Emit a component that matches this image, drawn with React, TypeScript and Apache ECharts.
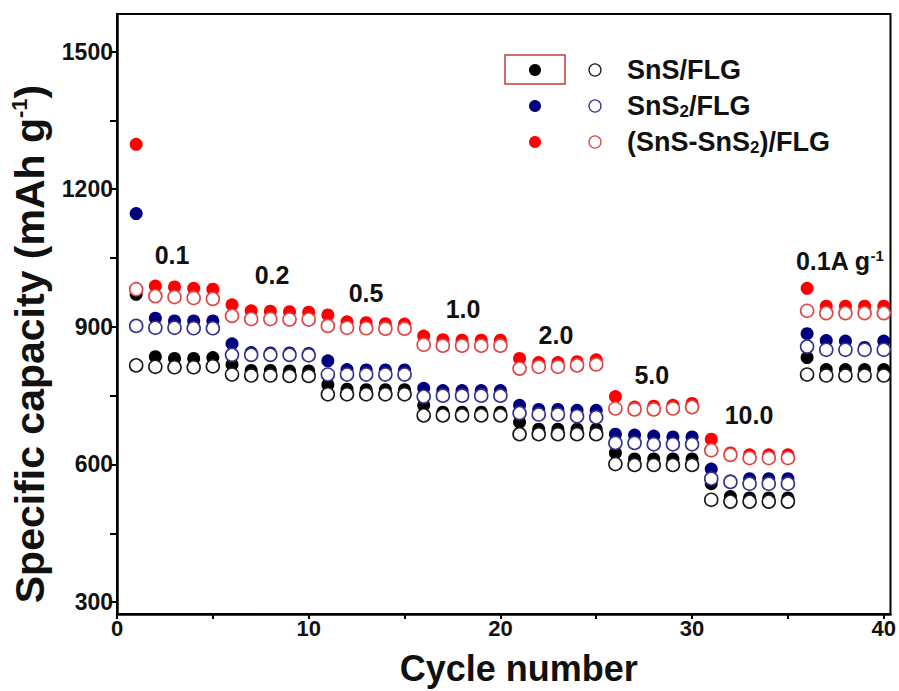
import React, { useEffect, useRef } from "react";
import * as echarts from "echarts";

const cycles = [1, 2, 3, 4, 5, 6, 7, 8, 9, 10, 11, 12, 13, 14, 15, 16, 17, 18, 19, 20, 21, 22, 23, 24, 25, 26, 27, 28, 29, 30, 31, 32, 33, 34, 35, 36, 37, 38, 39, 40];

const snsFilled = [971, 835, 831, 831, 833, 818, 805, 805, 804, 804, 774, 764, 763, 763, 763, 729, 714, 714, 714, 714, 692, 677, 677, 677, 677, 625, 612, 612, 612, 612, 558, 530, 527, 527, 527, 833, 807, 807, 807, 807];
const snsOpen = [816, 813, 812, 812, 814, 796, 794, 794, 793, 793, 753, 753, 753, 753, 753, 707, 707, 707, 707, 707, 666, 666, 666, 666, 666, 601, 599, 599, 599, 599, 523, 519, 519, 519, 519, 796, 794, 794, 794, 794];
const sns2Filled = [1147, 919, 913, 913, 913, 863, 844, 843, 843, 842, 826, 807, 806, 806, 806, 766, 761, 761, 761, 761, 729, 720, 720, 718, 718, 666, 664, 662, 660, 660, 590, 564, 569, 569, 569, 885, 870, 869, 855, 869];
const sns2Open = [902, 898, 898, 897, 897, 839, 839, 839, 839, 838, 796, 796, 796, 796, 796, 748, 750, 750, 750, 750, 712, 709, 709, 705, 703, 647, 647, 644, 644, 644, 569, 562, 558, 558, 558, 857, 850, 850, 850, 850];
const hybFilled = [1298, 989, 987, 984, 982, 948, 935, 934, 933, 932, 926, 911, 909, 907, 906, 880, 872, 871, 871, 871, 831, 822, 822, 824, 828, 748, 725, 727, 729, 733, 655, 625, 621, 621, 621, 984, 945, 945, 945, 945];
const hybOpen = [982, 967, 965, 963, 961, 924, 917, 917, 916, 916, 902, 898, 897, 896, 896, 861, 859, 859, 859, 859, 809, 813, 813, 816, 818, 722, 720, 720, 722, 725, 631, 621, 614, 614, 614, 935, 930, 930, 930, 930];

const rateTexts = ["0.1", "0.2", "0.5", "1.0", "2.0", "5.0", "10.0", "0.1A g{sup|-1}"];
const rateX = [2.87, 8.09, 12.99, 18.05, 22.9, 27.9, 32.97, 37.7];
const rateY = [1056, 1013, 974, 939, 883, 796, 707, 1043];

const xTickValues = [0, 5, 10, 15, 20, 25, 30, 35, 40];
const xLabelValues = [0, 10, 20, 30, 40];
const yTickValues = [300, 450, 600, 750, 900, 1050, 1200, 1350, 1500];
const yLabelValues = [300, 600, 900, 1200, 1500];

const legendNames = ["SnS/FLG", "SnS{sub|2}/FLG", "(SnS-SnS{sub|2})/FLG"];

const FONT = 'Arial, "Liberation Sans", Helvetica, sans-serif';
const NARROW = '"Liberation Sans Narrow", "Arial Narrow", Arial, "Liberation Sans", sans-serif';

const filledColors = ["#000000", "#00007f", "#ff0000"];
const openColors = ["#1a1a1a", "#34348f", "#e04545"];

export default function App() {
  const ref = useRef<HTMLDivElement>(null);

  useEffect(() => {
    if (!ref.current) return;
    const chart = echarts.init(ref.current, null, { renderer: "svg" });

    const pair = (ys: number[]) => cycles.map((c, i) => [c, ys[i]]);
    const filledSets = [snsFilled, sns2Filled, hybFilled];
    const openSets = [snsOpen, sns2Open, hybOpen];

    const series: any[] = [];
    filledSets.forEach((ys, k) => {
      series.push({
        type: "scatter",
        name: "filled" + k,
        data: pair(ys),
        symbol: "circle",
        symbolSize: 13,
        itemStyle: { color: filledColors[k], opacity: 1 },
        z: 2,
      });
    });
    openSets.forEach((ys, k) => {
      series.push({
        type: "scatter",
        name: "open" + k,
        data: pair(ys),
        symbol: "circle",
        symbolSize: 13,
        itemStyle: { color: "#ffffff", borderColor: openColors[k], borderWidth: 1.6, opacity: 1 },
        z: 3,
      });
    });
    series.push({
      type: "scatter",
      name: "rates",
      data: rateX.map((x, i) => ({ value: [x, rateY[i]], text: rateTexts[i] })),
      symbolSize: 0,
      silent: true,
      itemStyle: { opacity: 1 },
      z: 4,
      label: {
        show: true,
        position: "inside",
        formatter: (p: any) => p.data.text,
        color: "#111",
        opacity: 1,
        fontSize: 25,
        fontWeight: "bold",
        fontFamily: FONT,
        rich: {
          sup: {
            fontSize: 15,
            fontWeight: "bold",
            fontFamily: FONT,
            color: "#111",
            verticalAlign: "top",
            padding: [0, 0, 12, 0],
          },
        },
      },
    });

    const legendGraphics: any[] = [
      {
        type: "rect",
        shape: { x: 505, y: 55, width: 60, height: 29 },
        style: { fill: "none", stroke: "#c83c3c", lineWidth: 1.5 },
      },
    ];
    const rowY = [70, 106, 142];
    rowY.forEach((y, k) => {
      legendGraphics.push({
        type: "circle",
        shape: { cx: 535, cy: y, r: 6 },
        style: { fill: filledColors[k] },
      });
      legendGraphics.push({
        type: "circle",
        shape: { cx: 595, cy: y, r: 6 },
        style: { fill: "#fff", stroke: openColors[k], lineWidth: 1.3 },
      });
      legendGraphics.push({
        type: "text",
        x: 627,
        y: y,
        style: {
          text: legendNames[k],
          fill: "#111",
          fontSize: 27,
          fontWeight: "bold",
          fontFamily: FONT,
          verticalAlign: "middle",
          align: "left",
          rich: {
            sub: {
              fontSize: 17,
              fontWeight: "bold",
              fontFamily: FONT,
              fill: "#111",
              verticalAlign: "bottom",
              padding: [8, 0, 0, 0],
            },
          },
        },
      });
    });

    chart.setOption({
      animation: false,
      backgroundColor: "#ffffff",
      grid: {
        left: 117,
        right: 7,
        top: 14,
        bottom: 73,
        show: true,
        borderColor: "#000",
        borderWidth: 2,
        backgroundColor: "transparent",
      },
      xAxis: {
        type: "value",
        min: 0,
        max: 40.35,
        interval: 5,
        name: "Cycle number",
        nameLocation: "middle",
        nameGap: 36,
        nameTextStyle: { fontSize: 36, fontWeight: "bold", fontFamily: NARROW, color: "#111", padding: [0, 0, 0, 30] },
        axisLine: { show: true, onZero: false, lineStyle: { color: "#000", width: 2.5 } },
        axisTick: { show: true, inside: false, length: 5, customValues: xTickValues, lineStyle: { color: "#000", width: 2 } },
        axisLabel: {
          customValues: xLabelValues,
          fontSize: 22,
          fontWeight: "bold",
          fontFamily: NARROW,
          color: "#111",
          margin: 3,
          formatter: (v: number) => String(v),
        },
        splitLine: { show: false },
      },
      yAxis: {
        type: "value",
        min: 274,
        max: 1582,
        name: "Specific capacity (mAh g{sup|-1})",
        nameLocation: "middle",
        nameRotate: 90,
        nameGap: 58,
        nameTextStyle: {
          fontSize: 41,
          fontWeight: "bold",
          fontFamily: FONT,
          color: "#111",
          padding: [0, 60, 0, 0],
          rich: {
            sup: { fontSize: 22, fontWeight: "bold", fontFamily: FONT, color: "#111", verticalAlign: "top", padding: [0, 0, 21, 0] },
          },
        },
        axisLine: { show: true, onZero: false, lineStyle: { color: "#000", width: 2.5 } },
        axisTick: { show: true, inside: false, length: 7, customValues: yTickValues, lineStyle: { color: "#000", width: 2 } },
        axisLabel: {
          customValues: yLabelValues,
          fontSize: 23,
          fontWeight: "bold",
          fontFamily: FONT,
          color: "#111",
          margin: 4,
          formatter: (v: number) => String(v),
        },
        splitLine: { show: false },
      },
      series,
      graphic: legendGraphics,
    });

    return () => chart.dispose();
  }, []);

  return (
    <div
      ref={ref}
      style={{ position: "fixed", left: 0, top: 0, width: 899, height: 691, background: "#fff" }}
    />
  );
}
